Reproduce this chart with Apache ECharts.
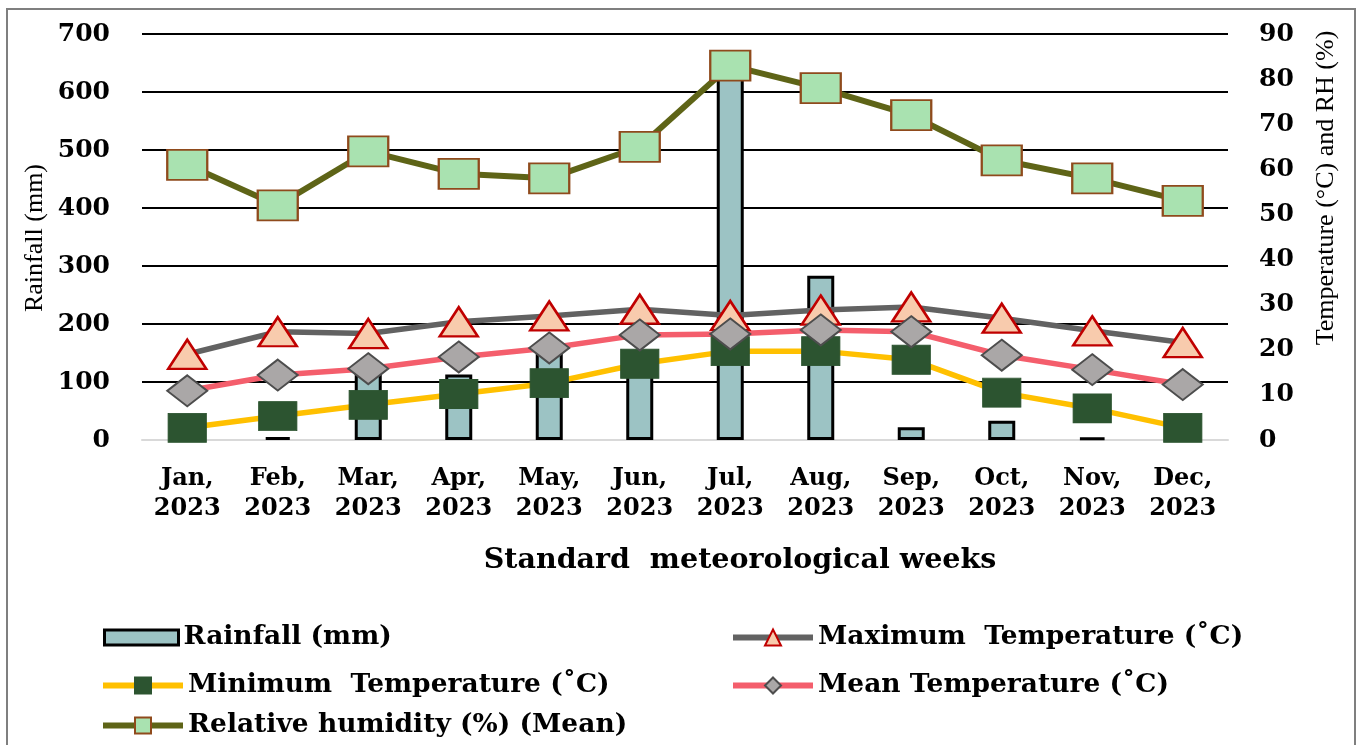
<!DOCTYPE html>
<html>
<head>
<meta charset="utf-8">
<script src="https://cdn.jsdelivr.net/npm/echarts@6/dist/echarts.min.js"></script>
<style>
  html, body { margin: 0; padding: 0; background: #fff; }
  #chart { width: 1359px; height: 745px; }
</style>
</head>
<body>
<div id="chart"></div>
<script>
// Monthly weather, 2023
const months = ['Jan, 2023', 'Feb, 2023', 'Mar, 2023', 'Apr, 2023', 'May, 2023', 'Jun, 2023',
                'Jul, 2023', 'Aug, 2023', 'Sep, 2023', 'Oct, 2023', 'Nov, 2023', 'Dec, 2023'];
const rainfall = [0, 5, 125, 113, 160, 150, 630, 283, 22, 33, 4, 0];          // mm
const maxTemp  = [19, 24, 23.6, 26.2, 27.5, 29, 27.6, 28.8, 29.5, 27, 24.2, 21.6]; // °C
const minTemp  = [2.7, 5.3, 7.8, 10.2, 12.6, 16.9, 19.7, 19.7, 17.8, 10.5, 7, 2.7];  // °C
const meanTemp = [10.9, 14.4, 15.8, 18.4, 20.4, 23.3, 23.5, 24.4, 24, 18.8, 15.6, 12.3]; // °C
const relHumidity = [61, 52, 64, 59, 58, 65, 83, 78, 72, 62, 58, 53];           // %

const rainTicks = { min: 0, max: 700, step: 100 };
const tempTicks = { min: 0, max: 90, step: 10 };

const NAMES = {
  rain: 'Rainfall (mm)',
  max: 'Maximum  Temperature (˚C)',
  min: 'Minimum  Temperature (˚C)',
  mean: 'Mean Temperature (˚C)',
  rh: 'Relative humidity (%) (Mean)'
};

const SERIF_WIDE = '"DejaVu Serif", serif';
const SERIF = '"Liberation Serif", "Times New Roman", serif';

const chart = echarts.init(document.getElementById('chart'), null, { renderer: 'canvas' });

const legendText = { fontFamily: SERIF_WIDE, fontWeight: 'bold', fontSize: 26.5, color: '#000' };
function legendAt(name, left, top, w, h, extra) {
  return Object.assign({
    data: [name], left: left, top: top, orient: 'horizontal',
    itemWidth: w, itemHeight: h, itemGap: 0, padding: 0,
    textStyle: legendText, selectedMode: false,
    lineStyle: { width: 6 }
  }, extra || {});
}

const gridColors = ['#d9d9d9'].concat(new Array(7).fill('#000'));

chart.setOption({
  animation: false,
  backgroundColor: '#fff',
  grid: { left: 142, right: 131, top: 34, bottom: 305 },
  legend: [
    legendAt(NAMES.rain, 103, 624, 74, 15, { icon: 'rect', itemStyle: { borderWidth: 3, borderColor: '#000' } }),
    legendAt(NAMES.max, 730, 624, 80, 20),
    legendAt(NAMES.min, 100, 672, 80, 20),
    legendAt(NAMES.mean, 730, 672, 80, 20),
    legendAt(NAMES.rh, 100, 712, 80, 20)
  ],
  xAxis: {
    type: 'category',
    data: months,
    axisTick: { show: false },
    axisLine: { lineStyle: { color: '#d9d9d9', width: 2 } },
    axisLabel: {
      formatter: v => v.replace(', ', ',\n'),
      fontFamily: SERIF_WIDE, fontWeight: 'bold', fontSize: 24, lineHeight: 30,
      color: '#000', margin: 24, interval: 0
    }
  },
  yAxis: [
    {
      type: 'value', min: rainTicks.min, max: rainTicks.max, interval: rainTicks.step,
      axisLine: { show: false }, axisTick: { show: false },
      splitLine: { lineStyle: { color: gridColors, width: 2 } },
      axisLabel: { fontFamily: SERIF_WIDE, fontWeight: 'bold', fontSize: 25, color: '#000', margin: 32 }
    },
    {
      type: 'value', position: 'right', min: tempTicks.min, max: tempTicks.max, interval: tempTicks.step,
      axisLine: { show: false }, axisTick: { show: false }, splitLine: { show: false },
      axisLabel: { fontFamily: SERIF_WIDE, fontWeight: 'bold', fontSize: 25, color: '#000', margin: 31 }
    }
  ],
  series: [
    {
      name: NAMES.rain, type: 'bar', data: rainfall, yAxisIndex: 0, barWidth: 27,
      itemStyle: { color: '#9cc3c4', borderColor: '#000', borderWidth: 3 }
    },
    {
      name: NAMES.max, type: 'line', data: maxTemp, yAxisIndex: 1,
      lineStyle: { color: '#626262', width: 5.5 },
      symbol: 'triangle', symbolSize: [38, 29],
      itemStyle: { color: '#f8cbad', borderColor: '#c00000', borderWidth: 2.5 }
    },
    {
      name: NAMES.min, type: 'line', data: minTemp, yAxisIndex: 1,
      lineStyle: { color: '#ffc000', width: 5.5 },
      symbol: 'rect', symbolSize: [38, 29],
      itemStyle: { color: '#2c5430', borderColor: '#2c5430', borderWidth: 1 }
    },
    {
      name: NAMES.mean, type: 'line', data: meanTemp, yAxisIndex: 1,
      lineStyle: { color: '#f45e6c', width: 5.5 },
      symbol: 'diamond', symbolSize: [40, 31],
      itemStyle: { color: '#aaa7a7', borderColor: '#4d4d4d', borderWidth: 2 }
    },
    {
      name: NAMES.rh, type: 'line', data: relHumidity, yAxisIndex: 1,
      lineStyle: { color: '#5e6417', width: 6 },
      symbol: 'rect', symbolSize: [40, 30],
      itemStyle: { color: '#a9e2b0', borderColor: '#8f4a1c', borderWidth: 2 }
    }
  ],
  graphic: [
    {
      type: 'rect', silent: true, z: -10,
      shape: { x: 7, y: 9, width: 1348, height: 760 },
      style: { fill: null, stroke: '#7f7f7f', lineWidth: 2 }
    },
    {
      type: 'text', x: 35, y: 238, rotation: Math.PI / 2,
      style: { text: 'Rainfall (mm)', fontFamily: SERIF, fontSize: 26, fill: '#000', align: 'center', verticalAlign: 'middle' }
    },
    {
      type: 'text', x: 1326, y: 188, rotation: Math.PI / 2,
      style: { text: 'Temperature (°C) and RH (%)', fontFamily: SERIF, fontSize: 26, fill: '#000', align: 'center', verticalAlign: 'middle' }
    },
    {
      type: 'text', x: 740, y: 561,
      style: { text: 'Standard  meteorological weeks', fontFamily: SERIF_WIDE, fontWeight: 'bold', fontSize: 28.5, fill: '#000', align: 'center', verticalAlign: 'middle' }
    }
  ]
});
</script>
</body>
</html>
